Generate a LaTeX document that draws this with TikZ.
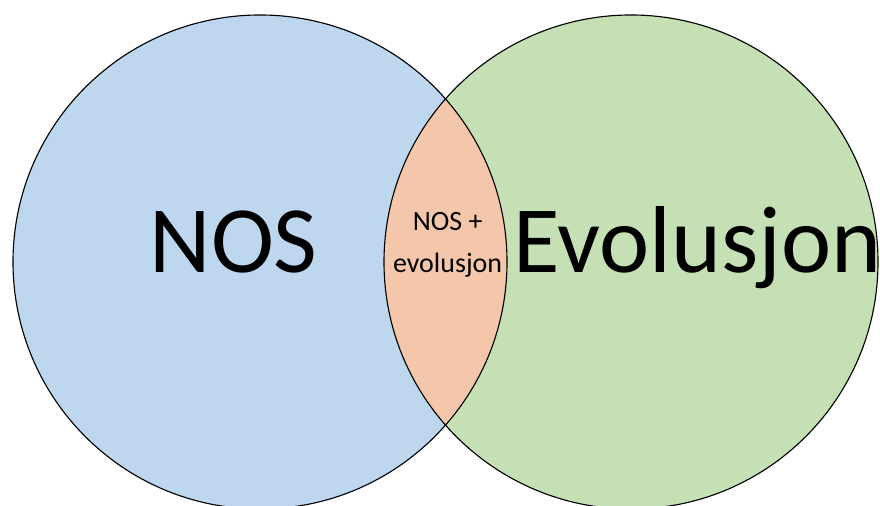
\documentclass[tikz,border=0pt]{standalone}
\usepackage{fontspec}
\setmainfont{Carlito}
\usepackage{tikz}
\definecolor{nosblue}{HTML}{BDD7EE}
\definecolor{evogreen}{HTML}{C5E0B4}
\definecolor{mixpeach}{HTML}{F4C7AA}
\tikzset{
    big label/.style={font=\fontsize{67.6}{80}\selectfont, anchor=base},
    small label/.style={font=\fontsize{19.9}{29.9}\selectfont, align=center},
}

\begin{document}
\begin{tikzpicture}
\useasboundingbox (0,0) rectangle (22,12.65);
\fill[nosblue] (6.5,6.1) circle (6.175);
\fill[evogreen] (15.775,6.1) circle (6.175);
\begin{scope}
\clip (6.5,6.1) circle (6.175);
\fill[mixpeach] (15.775,6.1) circle (6.175);
\end{scope}
\draw[line width=0.8pt] (6.5,6.1) circle (6.175);
\draw[line width=0.8pt] (15.775,6.1) circle (6.175);

\node[big label] (nos) at (5.84,5.825) {NOS};
\node[big label] (evo) at (17.44,5.825) {Evolusjon};
\node[small label] (both) at (11.19,6.53) {NOS +\\evolusjon};
\end{tikzpicture}
\end{document}
